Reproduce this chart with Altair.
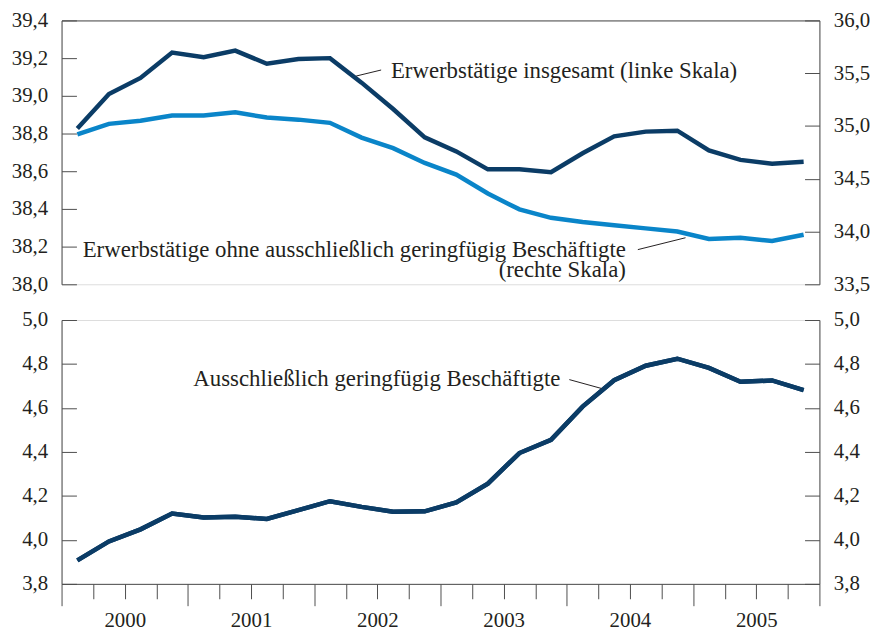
import altair as alt
import pandas as pd

# ---- data (quarterly, 2000Q1 .. 2005Q4), million persons ----
years = [2000, 2001, 2002, 2003, 2004, 2005]
quarter_index = list(range(24))
total = [38.826, 39.01, 39.095, 39.23, 39.205, 39.24, 39.17, 39.195,
         39.20, 39.07, 38.93, 38.78, 38.705, 38.61, 38.61, 38.595,
         38.695, 38.785, 38.81, 38.815, 38.71, 38.66, 38.64, 38.65]
ohne = [34.92, 35.02, 35.05, 35.10, 35.10, 35.13, 35.08, 35.06,
        35.03, 34.89, 34.79, 34.65, 34.54, 34.36, 34.21, 34.13,
        34.09, 34.06, 34.03, 34.00, 33.93, 33.94, 33.91, 33.97]
gering = [3.907, 3.993, 4.048, 4.12, 4.102, 4.105, 4.095, 4.135,
          4.176, 4.15, 4.128, 4.13, 4.17, 4.256, 4.395, 4.455,
          4.606, 4.726, 4.792, 4.824, 4.782, 4.719, 4.725, 4.681]

left_top_ticks = [38.0, 38.2, 38.4, 38.6, 38.8, 39.0, 39.2, 39.4]
right_top_ticks = [33.5, 34.0, 34.5, 35.0, 35.5, 36.0]
bottom_ticks = [3.8, 4.0, 4.2, 4.4, 4.6, 4.8, 5.0]

# annotations
ann_top_left_text = ["Erwerbstätige insgesamt (linke Skala)"]
ann_top_left_x = [10.43]
ann_top_left_y = [39.095]
ann_top_right_text = ["Erwerbstätige ohne ausschließlich geringfügig Beschäftigte", "(rechte Skala)"]
ann_top_right_x = [17.87, 17.87]
ann_top_right_y = [38.144, 38.037]
lead_top_x = [9.33, 18.25]
lead_top_y = [39.105, 38.184]
lead_top_x2 = [10.12, 19.76]
lead_top_y2 = [39.137, 38.247]
ann_bot_text = ["Ausschließlich geringfügig Beschäftigte"]
ann_bot_x = [15.80]
ann_bot_y = [4.698]
lead_bot_x = [16.08]
lead_bot_y = [4.729]
lead_bot_x2 = [17.09]
lead_bot_y2 = [4.689]

DARK = "#0b3c66"
LIGHT = "#0a85c9"
AX = "#4d4d4d"
TXT = "#231f20"
FONT = "'Liberation Serif', 'Times New Roman', 'DejaVu Serif', serif"
LBL = "replace(format(datum.value, '.1f'), '.', ',')"
ANN_SIZE = 23

df = pd.DataFrame({
    "q": [i + 0.5 for i in quarter_index],
    "total": total,
    "ohne": ohne,
    "gering": gering,
})

xscale = alt.Scale(domain=[0, 24], nice=False, zero=False)
top_xaxis = alt.Axis(orient="top", labels=False, ticks=False, domain=True,
                     domainColor=AX, grid=False, title=None)


def yaxis(orient, values):
    return alt.Axis(orient=orient, values=values, title=None, grid=False,
                    domain=True, domainColor=AX, tickColor=AX,
                    tickSize={"expr": "-15"}, labelPadding=29,
                    labelExpr=LBL, labelFontSize=21, labelColor=TXT,
                    labelFont=FONT)


base = alt.Chart(df)

l_total = base.mark_line(color=DARK, strokeWidth=4.5).encode(
    x=alt.X("q:Q", scale=xscale, axis=top_xaxis),
    y=alt.Y("total:Q", scale=alt.Scale(domain=[38.0, 39.4], nice=False, zero=False),
            axis=yaxis("left", left_top_ticks)),
)
l_ohne = base.mark_line(color=LIGHT, strokeWidth=4.5).encode(
    x=alt.X("q:Q", scale=xscale, axis=top_xaxis),
    y=alt.Y("ohne:Q", scale=alt.Scale(domain=[33.5, 36.0], nice=False, zero=False),
            axis=yaxis("right", right_top_ticks)),
)

top_scale_left = alt.Scale(domain=[38.0, 39.4], nice=False, zero=False)

t1 = alt.Chart(pd.DataFrame({"x": ann_top_left_x, "y": ann_top_left_y,
                             "t": ann_top_left_text})).mark_text(
    align="left", baseline="alphabetic", font=FONT, fontSize=ANN_SIZE, color=TXT
).encode(x=alt.X("x:Q", scale=xscale, axis=top_xaxis),
         y=alt.Y("y:Q", scale=top_scale_left, axis=None), text="t:N")

t2 = alt.Chart(pd.DataFrame({"x": ann_top_right_x, "y": ann_top_right_y,
                             "t": ann_top_right_text})).mark_text(
    align="right", baseline="alphabetic", font=FONT, fontSize=ANN_SIZE, color=TXT
).encode(x=alt.X("x:Q", scale=xscale, axis=top_xaxis),
         y=alt.Y("y:Q", scale=top_scale_left, axis=None), text="t:N")

r_top = alt.Chart(pd.DataFrame({"x": lead_top_x, "y": lead_top_y,
                                "x2": lead_top_x2, "y2": lead_top_y2})).mark_rule(
    color=TXT, strokeWidth=1
).encode(x=alt.X("x:Q", scale=xscale, axis=top_xaxis),
         y=alt.Y("y:Q", scale=top_scale_left, axis=None), x2="x2:Q", y2="y2:Q")

top = alt.layer(l_total, l_ohne, t1, t2, r_top).resolve_scale(y="independent").properties(
    width=764, height=266)

# ---- bottom panel ----
bot_xaxis = alt.Axis(
    orient="bottom", values=list(range(25)), title=None, grid=False,
    domain=True, domainColor=AX, tickColor=AX,
    tickSize={"condition": {"test": "datum.value % 4 === 0", "value": 22}, "value": 15},
    labelExpr="datum.value % 4 === 2 ? '' + (" + str(years[0]) + " + (datum.value - 2) / 4) : ''",
    labelFontSize=21, labelColor=TXT, labelFont=FONT, labelPadding=11,
    labelBaseline="top", labelFlush=False,
)
bot_scale = alt.Scale(domain=[3.8, 5.0], nice=False, zero=False)

b_left = base.mark_line(color=DARK, strokeWidth=4.5).encode(
    x=alt.X("q:Q", scale=xscale, axis=bot_xaxis),
    y=alt.Y("gering:Q", scale=bot_scale, axis=yaxis("left", bottom_ticks)),
)
b_right = base.mark_line(color=DARK, strokeWidth=4.5).encode(
    x=alt.X("q:Q", scale=xscale, axis=bot_xaxis),
    y=alt.Y("gering:Q", scale=bot_scale, axis=yaxis("right", bottom_ticks)),
)
t3 = alt.Chart(pd.DataFrame({"x": ann_bot_x, "y": ann_bot_y, "t": ann_bot_text})).mark_text(
    align="right", baseline="alphabetic", font=FONT, fontSize=ANN_SIZE, color=TXT
).encode(x=alt.X("x:Q", scale=xscale, axis=bot_xaxis),
         y=alt.Y("y:Q", scale=bot_scale, axis=None), text="t:N")
r_bot = alt.Chart(pd.DataFrame({"x": lead_bot_x, "y": lead_bot_y,
                                "x2": lead_bot_x2, "y2": lead_bot_y2})).mark_rule(
    color=TXT, strokeWidth=1
).encode(x=alt.X("x:Q", scale=xscale, axis=bot_xaxis),
         y=alt.Y("y:Q", scale=bot_scale, axis=None), x2="x2:Q", y2="y2:Q")

bottom = alt.layer(b_left, b_right, t3, r_bot).resolve_scale(y="independent").properties(
    width=764, height=266)

chart = alt.vconcat(top, bottom, spacing=36, bounds="flush").properties(
    padding={"left": 2, "top": -2, "right": 0, "bottom": 0}
).configure_view(stroke=None).configure(font=FONT, background="white")

chart.save("out.html", embed_options={"renderer": "svg", "actions": False})
